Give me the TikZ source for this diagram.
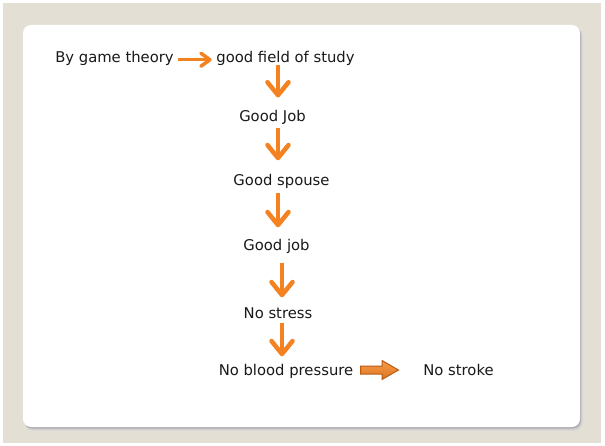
\documentclass[tikz,border=0pt]{standalone}
\usepackage{fontspec}
\setmainfont{DejaVu Sans}
\usetikzlibrary{arrows.meta}
\definecolor{flowOrange}{RGB}{245,130,32}
\definecolor{flowEdge}{RGB}{185,92,18}
\definecolor{pageBeige}{RGB}{228,223,213}
\tikzset{
    chainText/.style={inner sep=0pt, anchor=base, text height=11pt, text depth=3.5pt,
        font=\fontsize{14.8}{17}\selectfont, text=black!90},
    flow/.style={draw=flowOrange, line width=4.5pt,
        -{Straight Barb[round, length=13pt, width=21pt]}},
    flowSide/.style={draw=flowOrange, line width=3.5pt,
        -{Straight Barb[round, length=9pt, width=13pt]}},
    blockArrow/.style={draw=flowEdge, line width=1pt, line join=miter,
        top color=flowOrange!80!white, bottom color=flowOrange!90!black},
}
\begin{document}
\begin{tikzpicture}[x=1pt, y=-1pt]
    \useasboundingbox (0,0) rectangle (605,446);
    \fill[white] (0,0) rectangle (605,446);
    \fill[pageBeige] (3,3) rectangle (601,443);
        % card with its shadow
        \fill[gray!35, rounded corners=8pt] (25,28) rectangle (582.5,430.5);
        \fill[gray!65, rounded corners=8pt] (24,26.5) rectangle (581,428.5);
        \fill[white, rounded corners=8pt] (23,25) rectangle (580,427);

        \node[chainText] (theory) at (114.5, 62.5){By game theory};
        \node[chainText] (field) at (285.5, 62.5){good field of study};
        \node[chainText] (jobA) at (272.5, 121.7){Good Job};
        \node[chainText] (spouse) at (281.5, 186){Good spouse};
        \node[chainText] (jobB) at (276.5, 250.7){Good job};
        \node[chainText] (stress) at (278, 319){No stress};
        \node[chainText] (pressure) at (286, 375){No blood pressure};
        \node[chainText] (stroke) at (458.5, 375){No stroke};

        \draw[flowSide] ([xshift=4pt, yshift=-1pt]theory.east) -- ([xshift=-4.5pt, yshift=-1pt]field.west);
        \draw[flow] ([xshift=-7.5pt, yshift=1pt]field.south) -- ([xshift=5.5pt, yshift=13pt]jobA.north);
        \draw[flow] ([xshift=5.5pt, yshift=-2.8pt]jobA.south) -- ([xshift=-3.5pt, yshift=14.5pt]spouse.north);
        \draw[flow] ([xshift=-3.5pt, yshift=-3.5pt]spouse.south) -- ([xshift=1.5pt, yshift=12.2pt]jobB.north);
        \draw[flow] ([xshift=5.5pt, yshift=-8.8pt]jobB.south) -- ([xshift=4pt, yshift=10.5pt]stress.north);
        \draw[flow] ([xshift=4pt, yshift=-0.5pt]stress.south) -- ([xshift=-4pt, yshift=7.5pt]pressure.north);

        % block arrow to the last step
        \draw[blockArrow] (360.5,366) -- (382,366) -- (382,360.5) -- (398.5,370)
            -- (382,379.5) -- (382,374) -- (360.5,374) -- cycle;
\end{tikzpicture}
\end{document}
